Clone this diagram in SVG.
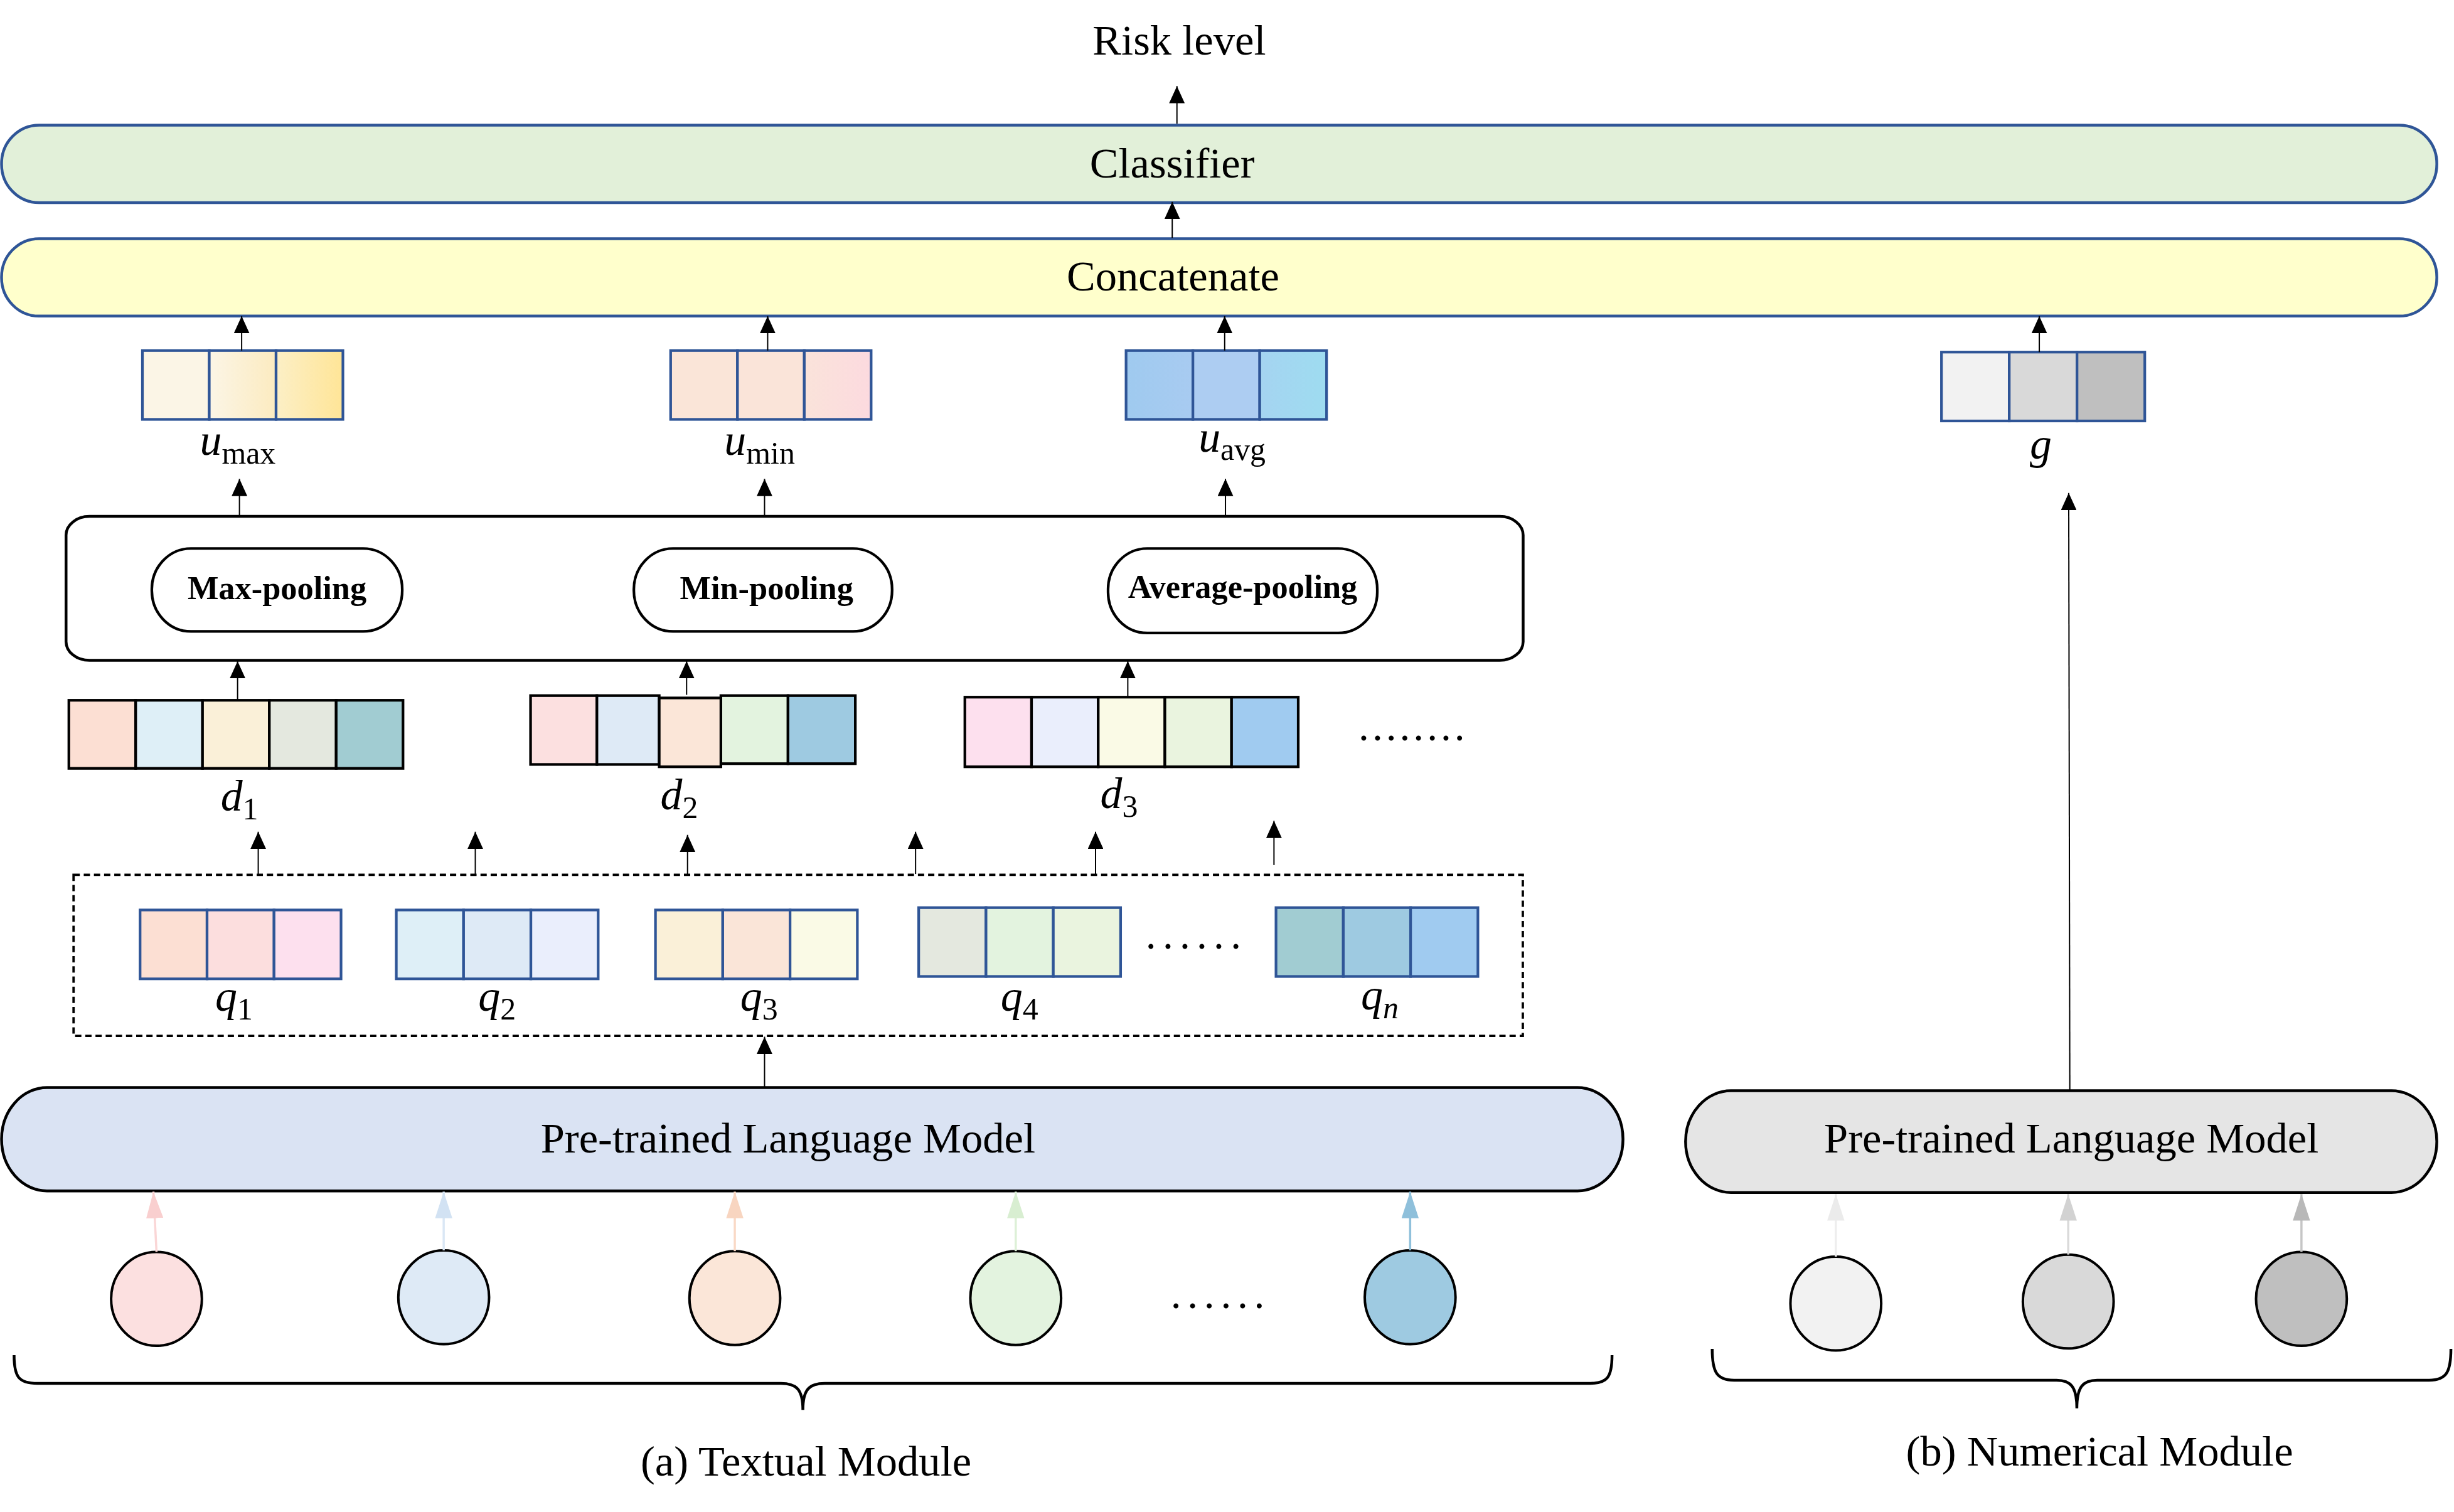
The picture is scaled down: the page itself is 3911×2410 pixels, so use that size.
<svg xmlns="http://www.w3.org/2000/svg" width="3911" height="2410" viewBox="0 0 3911 2410">
<defs>
<style>
text { font-family: "Liberation Serif", "Times New Roman", serif; fill: #000; }
.t { font-size: 27.5px; text-anchor: middle; }
.bar { stroke: #2F5597; stroke-width: 1.8; }
.plm { stroke: #000; stroke-width: 1.8; }
.vb { stroke: #2F5597; stroke-width: 1.7; }
.kb { stroke: #000; stroke-width: 1.7; }
.pill { fill: #fff; stroke: #000; stroke-width: 1.7; }
.pl { font-size: 21px; font-weight: bold; text-anchor: middle; }
.m { font-style: italic; font-size: 28px; }
.sub { font-style: normal; font-size: 20px; }
.dots { font-size: 27px; }
.arr { stroke: #000; stroke-width: 0.8; fill: none; marker-end: url(#ah); }
.carr { stroke-width: 1.4; fill: none; }
.circ { stroke: #000; stroke-width: 1.6; }
.brace { stroke: #000; stroke-width: 1.8; fill: none; }
</style>
<marker id="ah" markerUnits="userSpaceOnUse" viewBox="0 0 11 10" markerWidth="11" markerHeight="10" refX="11" refY="5" orient="auto"><path d="M0,0 L11,5 L0,10 z" fill="#000"/></marker>
<marker id="ahP" markerUnits="userSpaceOnUse" viewBox="0 0 17 11" markerWidth="17" markerHeight="11" refX="17" refY="5.5" orient="auto"><path d="M0,0 L17,5.5 L0,11 z" fill="#F9CFCF"/></marker>
<marker id="ahB" markerUnits="userSpaceOnUse" viewBox="0 0 17 11" markerWidth="17" markerHeight="11" refX="17" refY="5.5" orient="auto"><path d="M0,0 L17,5.5 L0,11 z" fill="#D2E2F3"/></marker>
<marker id="ahO" markerUnits="userSpaceOnUse" viewBox="0 0 17 11" markerWidth="17" markerHeight="11" refX="17" refY="5.5" orient="auto"><path d="M0,0 L17,5.5 L0,11 z" fill="#F8D5C0"/></marker>
<marker id="ahG" markerUnits="userSpaceOnUse" viewBox="0 0 17 11" markerWidth="17" markerHeight="11" refX="17" refY="5.5" orient="auto"><path d="M0,0 L17,5.5 L0,11 z" fill="#D8EED1"/></marker>
<marker id="ahD" markerUnits="userSpaceOnUse" viewBox="0 0 17 11" markerWidth="17" markerHeight="11" refX="17" refY="5.5" orient="auto"><path d="M0,0 L17,5.5 L0,11 z" fill="#8FC0DB"/></marker>
<marker id="ahW1" markerUnits="userSpaceOnUse" viewBox="0 0 17 11" markerWidth="17" markerHeight="11" refX="17" refY="5.5" orient="auto"><path d="M0,0 L17,5.5 L0,11 z" fill="#EBEBEB"/></marker>
<marker id="ahW2" markerUnits="userSpaceOnUse" viewBox="0 0 17 11" markerWidth="17" markerHeight="11" refX="17" refY="5.5" orient="auto"><path d="M0,0 L17,5.5 L0,11 z" fill="#D2D2D2"/></marker>
<marker id="ahW3" markerUnits="userSpaceOnUse" viewBox="0 0 17 11" markerWidth="17" markerHeight="11" refX="17" refY="5.5" orient="auto"><path d="M0,0 L17,5.5 L0,11 z" fill="#B8B8B8"/></marker>
<linearGradient id="gmx2" x1="0" x2="1" y1="0" y2="0"><stop offset="0" stop-color="#FBF5E6"/><stop offset="1" stop-color="#FCEBC0"/></linearGradient>
<linearGradient id="gmx3" x1="0" x2="1" y1="0" y2="0"><stop offset="0" stop-color="#FCEFC6"/><stop offset="1" stop-color="#FFE597"/></linearGradient>
<linearGradient id="gmn3" x1="0" x2="1" y1="0" y2="0"><stop offset="0" stop-color="#FAE3DA"/><stop offset="1" stop-color="#FCDADF"/></linearGradient>
<linearGradient id="gav1" x1="0" x2="1" y1="0" y2="0"><stop offset="0" stop-color="#9FCAEF"/><stop offset="1" stop-color="#A8CBF1"/></linearGradient>
<linearGradient id="gav3" x1="0" x2="1" y1="0" y2="0"><stop offset="0" stop-color="#A5D4F1"/><stop offset="1" stop-color="#9EDCF0"/></linearGradient>
</defs>
<rect x="0" y="0" width="3911" height="2410" fill="#fff"/>
<g transform="scale(2.4943)">

<g id="risk-level"><text class="t" x="753.5" y="35">Risk level</text></g>

<g id="classifier">
<rect class="bar" x="1" y="80" width="1556" height="49.5" rx="24" ry="24.5" fill="#E2F0D9"/>
<text class="t" x="749" y="113.5">Classifier</text>
</g>

<g id="concatenate">
<rect class="bar" x="1" y="152.5" width="1556" height="49.5" rx="24" ry="24.5" fill="#FFFFCC"/>
<text class="t" x="749.5" y="185.7">Concatenate</text>
</g>

<g id="u-max">
<rect class="vb" x="91" y="224" width="42.7" height="44" fill="#FBF5E6"/>
<rect class="vb" x="133.7" y="224" width="42.7" height="44" fill="url(#gmx2)"/>
<rect class="vb" x="176.4" y="224" width="42.7" height="44" fill="url(#gmx3)"/>
<text class="m" x="127.7" y="290.7">u<tspan class="sub" dy="5.7">max</tspan></text>
</g>

<g id="u-min">
<rect class="vb" x="428.5" y="224" width="42.7" height="44" fill="#FAE5D8"/>
<rect class="vb" x="471.2" y="224" width="42.7" height="44" fill="#FAE4D9"/>
<rect class="vb" x="513.9" y="224" width="42.7" height="44" fill="url(#gmn3)"/>
<text class="m" x="462.8" y="290.5">u<tspan class="sub" dy="5.7">min</tspan></text>
</g>

<g id="u-avg">
<rect class="vb" x="719.5" y="224" width="42.7" height="44" fill="url(#gav1)"/>
<rect class="vb" x="762.2" y="224" width="42.7" height="44" fill="#ADCDF2"/>
<rect class="vb" x="804.9" y="224" width="42.7" height="44" fill="url(#gav3)"/>
<text class="m" x="765.8" y="288.7">u<tspan class="sub" dy="5">avg</tspan></text>
</g>

<g id="g-vector">
<rect class="vb" x="1240.5" y="225" width="43.3" height="44" fill="#F2F2F2"/>
<rect class="vb" x="1283.8" y="225" width="43.3" height="44" fill="#D9D9D9"/>
<rect class="vb" x="1327.1" y="225" width="43.3" height="44" fill="#BFBFBF"/>
<text class="m" x="1297" y="293">g</text>
</g>

<g id="pooling">
<rect x="42.2" y="330" width="931" height="92" rx="15" ry="12" fill="#fff" stroke="#000" stroke-width="1.8"/>
<g id="max-pooling">
<rect class="pill" x="97" y="350.5" width="160" height="53" rx="25" ry="26"/>
<text class="pl" x="177" y="383">Max-pooling</text>
</g>
<g id="min-pooling">
<rect class="pill" x="405" y="350.5" width="165" height="53" rx="25" ry="26"/>
<text class="pl" x="489.8" y="383">Min-pooling</text>
</g>
<g id="average-pooling">
<rect class="pill" x="708" y="350.5" width="172" height="54" rx="25" ry="26"/>
<text class="pl" x="794" y="382">Average-pooling</text>
</g>
</g>

<g id="d1">
<rect class="kb" x="44" y="447.5" width="42.7" height="43.5" fill="#FCDFD3"/>
<rect class="kb" x="86.7" y="447.5" width="42.7" height="43.5" fill="#DEEFF7"/>
<rect class="kb" x="129.4" y="447.5" width="42.7" height="43.5" fill="#FAF0D8"/>
<rect class="kb" x="172.1" y="447.5" width="42.7" height="43.5" fill="#E4E8DF"/>
<rect class="kb" x="214.8" y="447.5" width="42.7" height="43.5" fill="#A1CCD2"/>
<text class="m" x="141" y="518">d<tspan class="sub" dy="5.6">1</tspan></text>
</g>

<g id="d2">
<rect class="kb" x="339" y="444.5" width="42.4" height="44" fill="#FCE0E0"/>
<rect class="kb" x="381.4" y="444.5" width="39.8" height="44" fill="#DEEAF6"/>
<rect class="kb" x="460.6" y="444.5" width="42.9" height="43.5" fill="#E3F3DF"/>
<rect class="kb" x="503.5" y="444.5" width="43" height="43.5" fill="#9ECAE1"/>
<rect class="kb" x="421.2" y="446" width="39.4" height="44" fill="#FBE6D8"/>
<text class="m" x="422" y="517.2">d<tspan class="sub" dy="5.6">2</tspan></text>
</g>

<g id="d3">
<rect class="kb" x="616.5" y="445.5" width="42.6" height="44.5" fill="#FDE0EE"/>
<rect class="kb" x="659.1" y="445.5" width="42.6" height="44.5" fill="#EAEEFC"/>
<rect class="kb" x="701.7" y="445.5" width="42.6" height="44.5" fill="#FAFAE6"/>
<rect class="kb" x="744.3" y="445.5" width="42.6" height="44.5" fill="#EAF4DF"/>
<rect class="kb" x="786.9" y="445.5" width="42.6" height="44.5" fill="#A0CBF0"/>
<text class="m" x="703" y="516.4">d<tspan class="sub" dy="5.6">3</tspan></text>
</g>

<g id="d-ellipsis"><text class="dots" x="868" y="473" textLength="68" lengthAdjust="spacing">........</text></g>

<g id="q-group">
<rect x="47" y="559" width="926" height="103" fill="none" stroke="#000" stroke-width="1.5" stroke-dasharray="4 2.5"/>
<g id="q1">
<rect class="vb" x="89.5" y="581.5" width="42.8" height="44" fill="#FCDFD3"/>
<rect class="vb" x="132.3" y="581.5" width="42.8" height="44" fill="#FCDEDE"/>
<rect class="vb" x="175.1" y="581.5" width="42.8" height="44" fill="#FDE0EE"/>
<text class="m" x="137.5" y="646">q<tspan class="sub" dy="5.5">1</tspan></text>
</g>
<g id="q2">
<rect class="vb" x="253.2" y="581.5" width="43" height="44" fill="#DEEFF7"/>
<rect class="vb" x="296.2" y="581.5" width="43" height="44" fill="#DEEAF6"/>
<rect class="vb" x="339.2" y="581.5" width="43" height="44" fill="#EAEEFC"/>
<text class="m" x="305.6" y="646">q<tspan class="sub" dy="5.5">2</tspan></text>
</g>
<g id="q3">
<rect class="vb" x="418.8" y="581.5" width="43" height="44" fill="#FAF0D8"/>
<rect class="vb" x="461.8" y="581.5" width="43" height="44" fill="#FAE5D8"/>
<rect class="vb" x="504.8" y="581.5" width="43" height="44" fill="#FAFAE6"/>
<text class="m" x="473" y="646">q<tspan class="sub" dy="5.5">3</tspan></text>
</g>
<g id="q4">
<rect class="vb" x="587" y="580" width="43" height="44" fill="#E4E8DF"/>
<rect class="vb" x="630" y="580" width="43" height="44" fill="#E3F3DF"/>
<rect class="vb" x="673" y="580" width="43" height="44" fill="#EAF4DF"/>
<text class="m" x="639.4" y="646">q<tspan class="sub" dy="5.5">4</tspan></text>
</g>
<g id="q-ellipsis"><text class="dots" x="732" y="606" textLength="61" lengthAdjust="spacing">......</text></g>
<g id="qn">
<rect class="vb" x="815.3" y="580" width="43" height="44" fill="#A1CCD2"/>
<rect class="vb" x="858.3" y="580" width="43" height="44" fill="#9ECAE1"/>
<rect class="vb" x="901.3" y="580" width="43" height="44" fill="#A0CBF0"/>
<text class="m" x="869.6" y="645">q<tspan class="m" style="font-size:20px" dy="5.5">n</tspan></text>
</g>
</g>

<g id="plm-text">
<rect class="plm" x="1" y="695" width="1036" height="66" rx="29" ry="33" fill="#DAE3F3"/>
<text class="t" x="503.5" y="736.6">Pre-trained Language Model</text>
</g>

<g id="plm-num">
<rect class="plm" x="1077" y="697" width="480" height="65" rx="29" ry="32.5" fill="#E5E5E5"/>
<text class="t" x="1323.5" y="736.6">Pre-trained Language Model</text>
</g>

<g id="text-inputs">
<ellipse class="circ" cx="100" cy="830" rx="29" ry="30" fill="#FCE0E0"/>
<ellipse class="circ" cx="283.5" cy="829" rx="29" ry="30" fill="#DEEAF6"/>
<ellipse class="circ" cx="469.5" cy="829.5" rx="29" ry="30" fill="#FBE6D8"/>
<ellipse class="circ" cx="649" cy="829.5" rx="29" ry="30" fill="#E3F3DF"/>
<ellipse class="circ" cx="901" cy="829" rx="29" ry="30" fill="#9ECAE1"/>
<text class="dots" x="748" y="836" textLength="60" lengthAdjust="spacing">......</text>
</g>

<g id="num-inputs">
<ellipse class="circ" cx="1173" cy="833" rx="29" ry="30" fill="#F2F2F2"/>
<ellipse class="circ" cx="1321.5" cy="831.7" rx="29" ry="30" fill="#D9D9D9"/>
<ellipse class="circ" cx="1470.5" cy="830" rx="29" ry="30" fill="#BFBFBF"/>
</g>

<g id="braces">
<path class="brace" d="M9,866 C9,880 12,884 24,884 L499,884 C509,884 513,888 513,901 C513,888 517,884 527,884 L1016,884 C1027,884 1030,880 1030,866"/>
<path class="brace" d="M1094,862 C1094,877 1097,882 1108,882 L1314,882 C1323,882 1327,886 1327,900 C1327,886 1331,882 1340,882 L1552,882 C1563,882 1566,877 1566,862"/>
</g>

<g id="captions">
<text class="t" x="515" y="943">(a) Textual Module</text>
<text class="t" x="1341.5" y="936.6">(b) Numerical Module</text>
</g>

<g id="connectors">
<line class="arr" x1="752" y1="79" x2="752" y2="55"/>
<line class="arr" x1="749" y1="152" x2="749" y2="129"/>
<line class="arr" x1="154.4" y1="224" x2="154.4" y2="202"/>
<line class="arr" x1="490.5" y1="224" x2="490.5" y2="202"/>
<line class="arr" x1="782.5" y1="224" x2="782.5" y2="202"/>
<line class="arr" x1="1303" y1="225" x2="1303" y2="202"/>
<line class="arr" x1="153" y1="330" x2="153" y2="306"/>
<line class="arr" x1="488.5" y1="330" x2="488.5" y2="306"/>
<line class="arr" x1="783" y1="330" x2="783" y2="306"/>
<line class="arr" x1="151.8" y1="447" x2="151.8" y2="422.5"/>
<line class="arr" x1="438.7" y1="444" x2="438.7" y2="422.5"/>
<line class="arr" x1="720.6" y1="445" x2="720.6" y2="422.5"/>
<line class="arr" x1="165" y1="558.5" x2="165" y2="531.5"/>
<line class="arr" x1="303.7" y1="558.5" x2="303.7" y2="531.5"/>
<line class="arr" x1="439.3" y1="558.5" x2="439.3" y2="533.5"/>
<line class="arr" x1="585" y1="558.5" x2="585" y2="531.5"/>
<line class="arr" x1="700" y1="558.5" x2="700" y2="531.5"/>
<line class="arr" x1="814" y1="552.8" x2="814" y2="524.5"/>
<line class="arr" x1="488.5" y1="695" x2="488.5" y2="662.5"/>
<line class="arr" x1="1322.5" y1="697" x2="1321.8" y2="315"/>
<line class="carr" stroke="#FAD6D6" marker-end="url(#ahP)" x1="100" y1="800" x2="98" y2="761.5"/>
<line class="carr" stroke="#DAE7F5" marker-end="url(#ahB)" x1="283.5" y1="799" x2="283.5" y2="761.5"/>
<line class="carr" stroke="#F9D9C6" marker-end="url(#ahO)" x1="469.5" y1="799.5" x2="469.5" y2="761.5"/>
<line class="carr" stroke="#DDF0D7" marker-end="url(#ahG)" x1="649" y1="799.5" x2="649" y2="761.5"/>
<line class="carr" stroke="#8FC0DB" marker-end="url(#ahD)" x1="901" y1="799" x2="901" y2="761.5"/>
<line class="carr" stroke="#EEEEEE" marker-end="url(#ahW1)" x1="1173" y1="803" x2="1173" y2="763"/>
<line class="carr" stroke="#DADADA" marker-end="url(#ahW2)" x1="1321.5" y1="801.7" x2="1321.5" y2="763"/>
<line class="carr" stroke="#C6C6C6" marker-end="url(#ahW3)" x1="1470.5" y1="800" x2="1470.5" y2="763"/>
</g>

</g>
</svg>
